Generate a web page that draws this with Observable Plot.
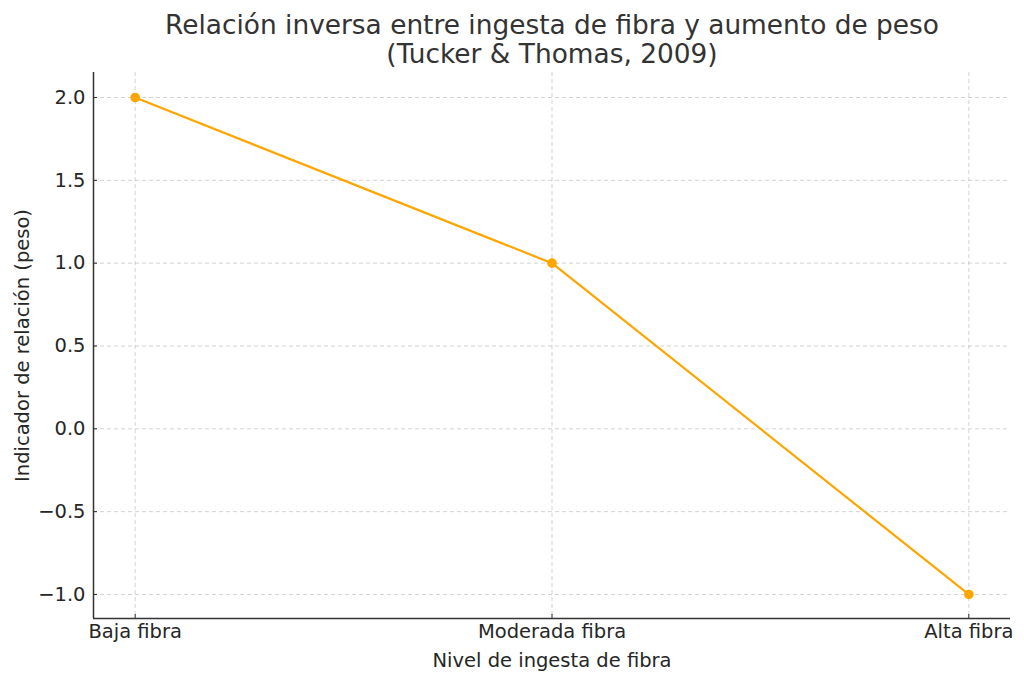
<!DOCTYPE html>
<html>
<head>
<meta charset="utf-8">
<script src="https://cdn.jsdelivr.net/npm/d3@7"></script>
<script src="https://cdn.jsdelivr.net/npm/@observablehq/plot@0.6"></script>
<style>
  html, body { margin: 0; padding: 0; background: #fff; }
  svg { display: block; }
  svg, svg text { font-family: "DejaVu Sans", sans-serif !important; }
</style>
</head>
<body>
<div id="chart"></div>
<script>
const categories = ["Baja fibra", "Moderada fibra", "Alta fibra"];
const values = [2.0, 1.0, -1.0];
const yTicks = [-1.0, -0.5, 0.0, 0.5, 1.0, 1.5, 2.0];
const titleLines = ["Relación inversa entre ingesta de fibra y aumento de peso", "(Tucker & Thomas, 2009)"];
const xLabel = "Nivel de ingesta de fibra";
const yLabel = "Indicador de relación (peso)";

const data = categories.map((c, i) => ({ i, c, v: values[i] }));
const font = "'DejaVu Sans', sans-serif";
const textColor = "#262626";
const orange = "#FFA500";
const tickFs = 19.5;

const chart = Plot.plot({
  width: 1024,
  height: 682,
  marginLeft: 93,
  marginRight: 14,
  marginTop: 72,
  marginBottom: 64,
  style: { fontFamily: font, fontSize: "19.5px", color: textColor, background: "#fff" },
  x: { type: "linear", domain: [-0.1, 2.1] },
  y: { domain: [-1.145, 2.151] },
  marks: [
    Plot.gridX(data.map(d => d.i), { stroke: "#b0b0b0", strokeOpacity: 0.7, strokeDasharray: "4,3", strokeWidth: 0.8 }),
    Plot.gridY(yTicks, { stroke: "#b0b0b0", strokeOpacity: 0.7, strokeDasharray: "4,3", strokeWidth: 0.8 }),
    Plot.axisY(yTicks, {
      tickSize: -4, tickPadding: 12, stroke: textColor, fontSize: tickFs, fill: textColor,
      tickFormat: d => d3.format(".1f")(d).replace("-", "\u2212"),
      label: null
    }),
    Plot.axisX(data.map(d => d.i), {
      tickSize: -4, tickPadding: 10, stroke: textColor, fontSize: tickFs, fill: textColor,
      tickFormat: i => categories[i],
      label: null
    }),
    Plot.text([xLabel], { frameAnchor: "bottom", lineAnchor: "middle", textAnchor: "middle", dy: 42, fontSize: tickFs, fill: textColor, text: d => d }),
    Plot.text([yLabel], { frameAnchor: "left", lineAnchor: "middle", textAnchor: "middle", dx: -71, rotate: -90, fontSize: tickFs, fill: textColor, text: d => d }),
    Plot.ruleX([-0.1], { stroke: "#333", strokeWidth: 1.5 }),
    Plot.ruleY([-1.145], { stroke: "#333", strokeWidth: 1.5 }),
    Plot.line(data, { x: "i", y: "v", stroke: orange, strokeWidth: 2.2 }),
    Plot.dot(data, { x: "i", y: "v", fill: orange, r: 4.8 }),
    Plot.text([titleLines[0]], { frameAnchor: "top", lineAnchor: "middle", dy: -47, fontSize: 26.4, fill: "#333", text: d => d }),
    Plot.text([titleLines[1]], { frameAnchor: "top", lineAnchor: "middle", dy: -18, fontSize: 26.4, fill: "#333", text: d => d })
  ]
});
document.getElementById("chart").appendChild(chart);
</script>
</body>
</html>
